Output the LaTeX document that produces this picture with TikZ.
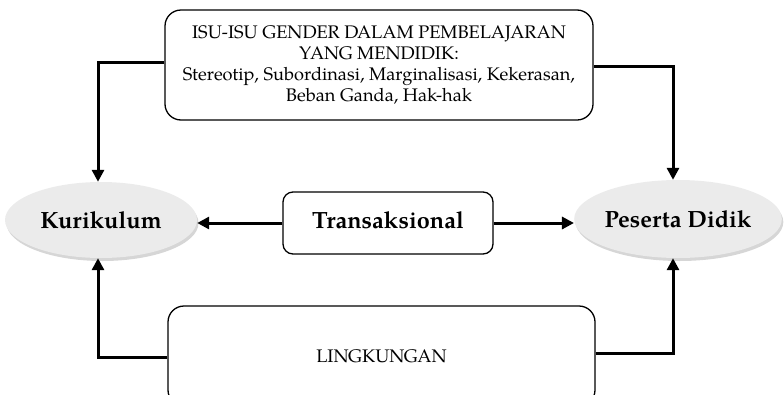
\documentclass[tikz,border=0pt]{standalone}
\usepackage{fontspec}
\setmainfont{TeX Gyre Pagella}
\usetikzlibrary{arrows.meta,shapes.geometric,shadows}
\begin{document}
\begin{tikzpicture}[x=1pt,y=-1pt,
  box/.style={draw=black, line width=1.3pt, fill=white, align=center, inner sep=0pt},
  ell/.style={ellipse, fill=gray!16, inner sep=0pt,
    drop shadow={shadow xshift=1.5pt, shadow yshift=-3pt, fill=gray!32, opacity=1},
    font=\fontsize{23.5}{26}\selectfont\bfseries},
  conn/.style={line width=3pt, -{Triangle[width=12pt,length=12pt]}},
  smalltext/.style={font=\fontsize{18.2}{20.7}\selectfont}
]
\useasboundingbox (0,0) rectangle (784,394);
\clip (0,0) rectangle (784,394);

\node[box, smalltext, rounded corners=16pt, minimum width=428pt, minimum height=110pt] (isu) at (379,65)
  {\raisebox{-6pt}{\parbox{420pt}{\centering\fontsize{18.2}{20.7}\selectfont ISU-ISU GENDER DALAM PEMBELAJARAN\\YANG MENDIDIK:\\Stereotip, Subordinasi, Marginalisasi, Kekerasan,\\Beban Ganda, Hak-hak}}};

\node[ell, minimum width=192pt, minimum height=76pt] (kur) at (101,220) {Kurikulum};
\node[ell, minimum width=207pt, minimum height=78pt] (pd) at (678,219) {Peserta Didik};

\node[box, rounded corners=10pt, minimum width=210pt, minimum height=62pt,
  font=\fontsize{23.5}{26}\selectfont\bfseries] (tr) at (388,223) {\raisebox{6pt}{Transaksional}};

\node[box, smalltext, rounded corners=16pt, minimum width=427pt, minimum height=100pt] (lk) at (381.5,356) {LINGKUNGAN};

\draw[conn] ([yshift=3pt]isu.west) -| ([xshift=-3pt]kur.north);
\draw[conn] ([yshift=-1pt]isu.east) -| ([xshift=-5pt]pd.north);
\draw[conn] (tr.west) -- (tr.west -| kur.east);
\draw[conn] (tr.east) -- (tr.east -| pd.west);
\draw[conn] ([yshift=-1pt]lk.west) -| ([xshift=-3pt]kur.south);
\draw[conn] ([yshift=3pt]lk.east) -| ([xshift=-5pt]pd.south);
\end{tikzpicture}
\end{document}
